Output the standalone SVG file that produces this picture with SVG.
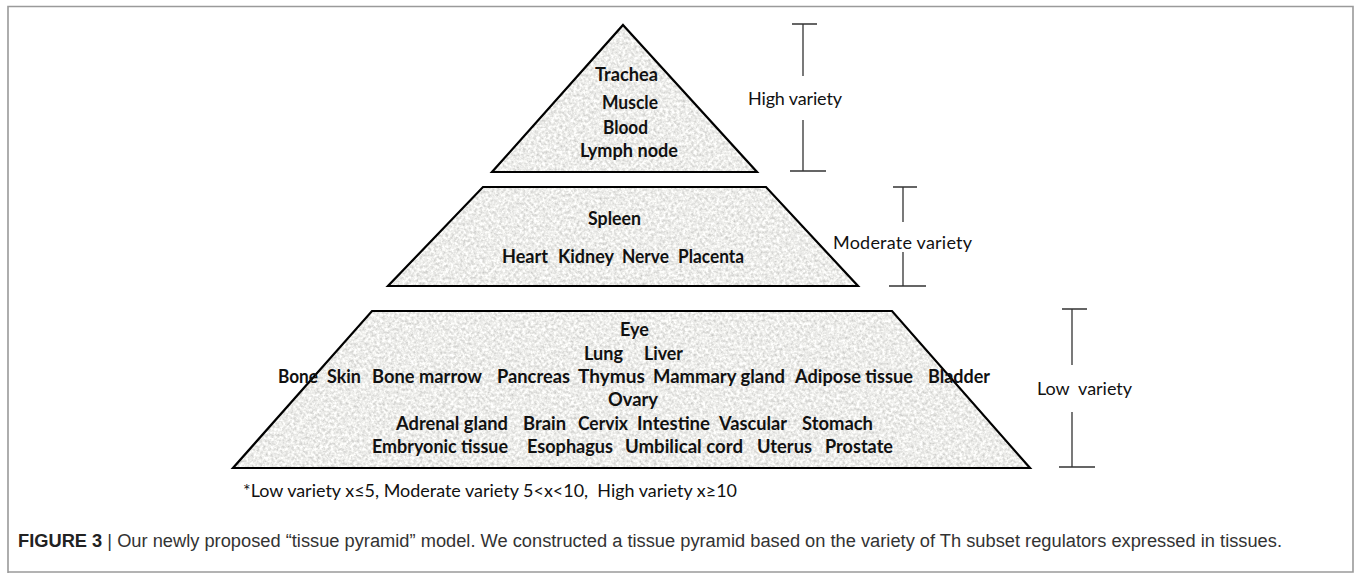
<svg xmlns="http://www.w3.org/2000/svg" width="1359" height="573" viewBox="0 0 1359 573">
<style>
.t{font-family:Lato,"Open Sans","Liberation Sans",sans-serif;font-weight:bold;font-size:18px;fill:#111}
.lab{font-family:Lato,"Open Sans","Liberation Sans",sans-serif;font-size:18px;fill:#111}
.fn{font-family:Lato,"Open Sans","Liberation Sans",sans-serif;font-size:17px;fill:#111}
.cap{font-family:"Liberation Sans",Arial,sans-serif;font-size:18px;fill:#333}
.edge{fill:none;stroke:#000;stroke-width:2.2;stroke-linejoin:miter}
.bar{stroke:#333;stroke-width:1.3;fill:none}
.tex{fill:#e8e8e5;filter:url(#tex)}
</style>
<defs>
<filter id="tex" x="0" y="0" width="100%" height="100%" color-interpolation-filters="sRGB">
<feTurbulence type="fractalNoise" baseFrequency="0.35" numOctaves="3" seed="7" result="n"/>
<feColorMatrix in="n" type="matrix" values="0.36 0 0 0 0.75  0.36 0 0 0 0.75  0.36 0 0 0 0.74  0 0 0 0 1" result="g"/>
<feComposite in="g" in2="SourceAlpha" operator="in"/>
</filter>
</defs>
<rect x="0" y="0" width="1359" height="573" fill="#fff"/>
<path d="M8,573 V6.5 H1353 V572 H8" fill="none" stroke="#9a9a9a" stroke-width="1.6"/>

<g id="tier-high">
<polygon class="tex" points="623,25 757,172 492,172"/>
<polygon class="edge" points="623,25 757,172 492,172"/>
<text class="t" x="595" y="81" textLength="63" lengthAdjust="spacingAndGlyphs">Trachea</text>
<text class="t" x="602" y="109" textLength="56" lengthAdjust="spacingAndGlyphs">Muscle</text>
<text class="t" x="603" y="134" textLength="45" lengthAdjust="spacingAndGlyphs">Blood</text>
<text class="t" x="580" y="157" textLength="98" lengthAdjust="spacingAndGlyphs">Lymph node</text>
</g>

<g id="tier-moderate">
<polygon class="tex" points="483,187 766,187 858,286 388,286"/>
<polygon class="edge" points="483,187 766,187 858,286 388,286"/>
<text class="t" x="588" y="225" textLength="53" lengthAdjust="spacingAndGlyphs">Spleen</text>
<text class="t" x="502" y="263" textLength="46" lengthAdjust="spacingAndGlyphs">Heart</text>
<text class="t" x="558" y="263" textLength="56" lengthAdjust="spacingAndGlyphs">Kidney</text>
<text class="t" x="622" y="263" textLength="47" lengthAdjust="spacingAndGlyphs">Nerve</text>
<text class="t" x="678" y="263" textLength="66" lengthAdjust="spacingAndGlyphs">Placenta</text>
</g>

<g id="tier-low">
<polygon class="tex" points="372,311 892,311 1030,468 233,468"/>
<polygon class="edge" points="372,311 892,311 1030,468 233,468"/>
<text class="t" x="620" y="336" textLength="29" lengthAdjust="spacingAndGlyphs">Eye</text>
<text class="t" x="584" y="360" textLength="39" lengthAdjust="spacingAndGlyphs">Lung</text>
<text class="t" x="644" y="360" textLength="39" lengthAdjust="spacingAndGlyphs">Liver</text>
<text class="t" x="278" y="383" textLength="40" lengthAdjust="spacingAndGlyphs">Bone</text>
<text class="t" x="327" y="383" textLength="34" lengthAdjust="spacingAndGlyphs">Skin</text>
<text class="t" x="372" y="383" textLength="110" lengthAdjust="spacingAndGlyphs">Bone marrow</text>
<text class="t" x="497" y="383" textLength="73" lengthAdjust="spacingAndGlyphs">Pancreas</text>
<text class="t" x="578" y="383" textLength="67" lengthAdjust="spacingAndGlyphs">Thymus</text>
<text class="t" x="653" y="383" textLength="132" lengthAdjust="spacingAndGlyphs">Mammary gland</text>
<text class="t" x="795" y="383" textLength="118" lengthAdjust="spacingAndGlyphs">Adipose tissue</text>
<text class="t" x="928" y="383" textLength="62" lengthAdjust="spacingAndGlyphs">Bladder</text>
<text class="t" x="608" y="406" textLength="50" lengthAdjust="spacingAndGlyphs">Ovary</text>
<text class="t" x="396" y="430" textLength="112" lengthAdjust="spacingAndGlyphs">Adrenal gland</text>
<text class="t" x="523" y="430" textLength="43" lengthAdjust="spacingAndGlyphs">Brain</text>
<text class="t" x="578" y="430" textLength="50" lengthAdjust="spacingAndGlyphs">Cervix</text>
<text class="t" x="637" y="430" textLength="73" lengthAdjust="spacingAndGlyphs">Intestine</text>
<text class="t" x="719" y="430" textLength="68" lengthAdjust="spacingAndGlyphs">Vascular</text>
<text class="t" x="802" y="430" textLength="71" lengthAdjust="spacingAndGlyphs">Stomach</text>
<text class="t" x="372" y="453" textLength="136" lengthAdjust="spacingAndGlyphs">Embryonic tissue</text>
<text class="t" x="527" y="453" textLength="86" lengthAdjust="spacingAndGlyphs">Esophagus</text>
<text class="t" x="625" y="453" textLength="118" lengthAdjust="spacingAndGlyphs">Umbilical cord</text>
<text class="t" x="757" y="453" textLength="55" lengthAdjust="spacingAndGlyphs">Uterus</text>
<text class="t" x="825" y="453" textLength="68" lengthAdjust="spacingAndGlyphs">Prostate</text>
</g>

<g id="connectors">
<path class="bar" d="M792,24 H817 M803,24 V76 M803,120 V171 M790,171 H826"/>
<path class="bar" d="M893,187 H917 M903,187 V222 M903,252 V286 M889,286 H926"/>
<path class="bar" d="M1062,309 H1087 M1072,309 V365 M1072,412 V467 M1059,467 H1095"/>
</g>

<g id="label-high"><text class="lab" x="748" y="105" textLength="94">High variety</text></g>
<g id="label-moderate"><text class="lab" x="833" y="249" textLength="139">Moderate variety</text></g>
<g id="label-low"><text class="lab" x="1037" y="395" textLength="95" xml:space="preserve">Low  variety</text></g>

<g id="footnote"><text class="fn" x="243" y="497" textLength="494" lengthAdjust="spacingAndGlyphs" xml:space="preserve">*Low variety x≤5, Moderate variety 5&lt;x&lt;10,  High variety x≥10</text></g>

<g id="caption"><text class="cap" x="18" y="547" textLength="1264" lengthAdjust="spacingAndGlyphs"><tspan font-weight="bold" fill="#222">FIGURE 3</tspan> | Our newly proposed “tissue pyramid” model. We constructed a tissue pyramid based on the variety of Th subset regulators expressed in tissues.</text></g>
</svg>
